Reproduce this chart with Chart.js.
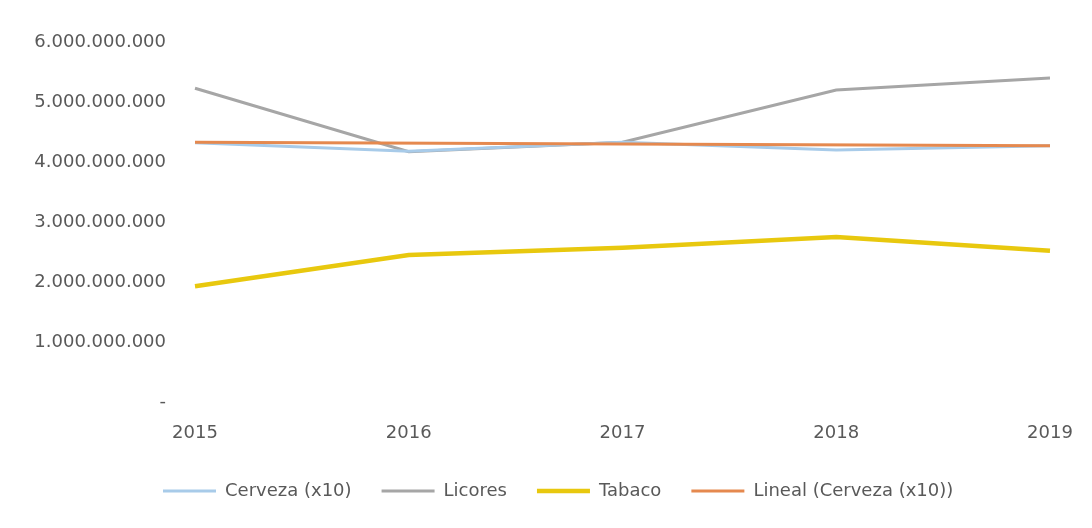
<!DOCTYPE html>
<html>
<head>
<meta charset="utf-8">
<script src="https://cdn.jsdelivr.net/npm/chart.js@4/dist/chart.umd.min.js"></script>
<style>
  html, body { margin: 0; padding: 0; background: #ffffff; }
  #wrap { width: 1092px; height: 528px; position: relative; }
</style>
</head>
<body>
<div id="wrap"><canvas id="chart"></canvas></div>
<script>
// Data
const years = ['2015', '2016', '2017', '2018', '2019'];
const cerveza = [4.32e9, 4.18e9, 4.33e9, 4.20e9, 4.27e9];
const licores = [5.23e9, 4.17e9, 4.33e9, 5.20e9, 5.40e9];
const tabaco = [1.93e9, 2.45e9, 2.57e9, 2.75e9, 2.52e9];
// trend line: only its two end points are read, the library joins them
const lineal = [4.33e9, null, null, null, 4.27e9];
const yTicks = [0, 1e9, 2e9, 3e9, 4e9, 5e9, 6e9];

const textColor = '#595959';
const font = { family: 'DejaVu Sans', size: 18 };

// 6000000000 -> 6.000.000.000, zero -> "-"
function formatTick(value) {
    if (value === 0) return '-';
    return String(value).replace(/\B(?=(\d{3})+(?!\d))/g, '.');
}

// legend sits under the plot, not under the axis labels
const legendShift = {
    id: 'legendShift',
    afterLayout(chart) {
        chart.legend.left += 108;
        chart.legend.right += 108;
    }
};

const ctx = document.getElementById('chart').getContext('2d');
new Chart(ctx, {
    type: 'line',
    data: {
        labels: years,
        datasets: [
            { label: 'Cerveza (x10)', data: cerveza, borderColor: '#a8cbe9', backgroundColor: '#a8cbe9', borderWidth: 3 },
            { label: 'Licores', data: licores, borderColor: '#a6a6a6', backgroundColor: '#a6a6a6', borderWidth: 3 },
            { label: 'Tabaco', data: tabaco, borderColor: '#e8c80e', backgroundColor: '#e8c80e', borderWidth: 4.5 },
            { label: 'Lineal (Cerveza (x10))', data: lineal, borderColor: '#e5894f', backgroundColor: '#e5894f', borderWidth: 3, spanGaps: true, order: -1 }
        ]
    },
    plugins: [legendShift],
    options: {
        responsive: true,
        maintainAspectRatio: false,
        animation: false,
        elements: { point: { radius: 0, hoverRadius: 0 }, line: { tension: 0 } },
        layout: { padding: { top: 42, right: 42, bottom: 18, left: 25 } },
        scales: {
            x: {
                offset: false,
                grid: { display: false },
                border: { display: false },
                ticks: { color: textColor, font: font, padding: 13, maxRotation: 0 },
                afterFit: (scale) => { scale.height = 50; }
            },
            y: {
                min: 0,
                max: 6e9,
                grid: { display: false },
                border: { display: false },
                afterBuildTicks: (scale) => { scale.ticks = yTicks.map(v => ({ value: v })); },
                ticks: { color: textColor, font: font, padding: 21, callback: formatTick },
                afterFit: (scale) => { scale.width = 170; }
            }
        },
        plugins: {
            tooltip: { enabled: false },
            legend: {
                position: 'bottom',
                align: 'start',
                labels: {
                    color: textColor,
                    font: font,
                    usePointStyle: true,
                    pointStyle: 'line',
                    pointStyleWidth: 53,
                    padding: 30,
                    sort: (a, b) => a.datasetIndex - b.datasetIndex
                }
            }
        }
    }
});
</script>
</body>
</html>
